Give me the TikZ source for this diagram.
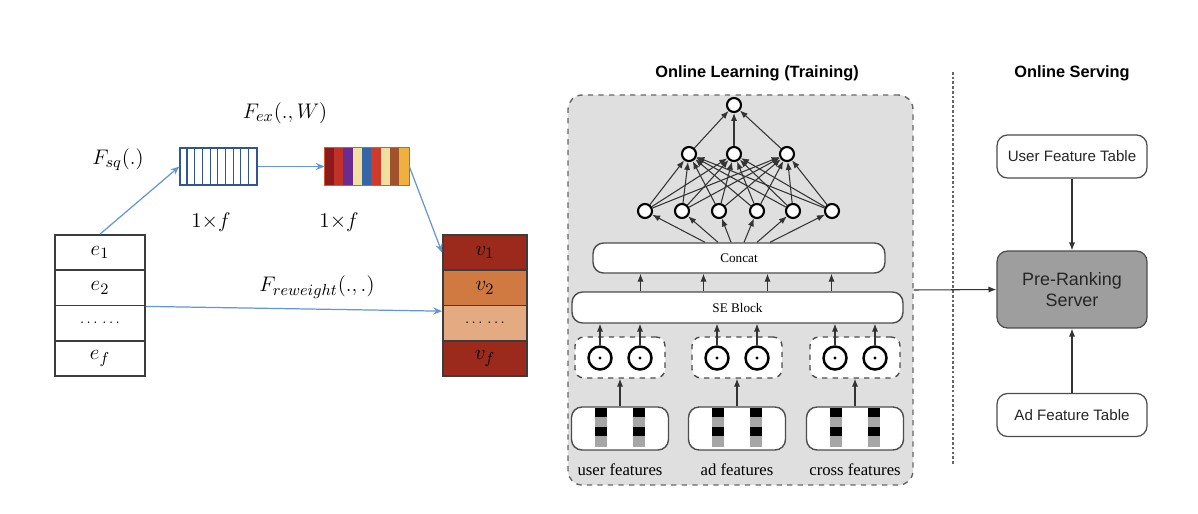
\documentclass[tikz,border=0pt]{standalone}
\usepackage{fontspec}
\setmainfont{Liberation Serif}
\setsansfont{Liberation Sans}
\usepackage{tikz}
\usetikzlibrary{arrows.meta, positioning, calc}
\definecolor{linkblue}{RGB}{100, 150, 215}
\definecolor{cellblue}{RGB}{47, 85, 151}
\definecolor{vdark}{RGB}{155, 42, 28}
\definecolor{vorange}{RGB}{208, 122, 66}
\definecolor{vpeach}{RGB}{228, 170, 130}
\definecolor{panelgray}{RGB}{223, 223, 223}
\definecolor{servergray}{RGB}{158, 158, 158}
\definecolor{inkgray}{RGB}{60, 60, 60}
\definecolor{exborder}{RGB}{215, 90, 40}
\definecolor{exa}{RGB}{140, 26, 26}
\definecolor{exb}{RGB}{192, 50, 40}
\definecolor{exc}{RGB}{106, 44, 145}
\definecolor{exd}{RGB}{243, 224, 160}
\definecolor{exe}{RGB}{52, 101, 164}
\definecolor{exf}{RGB}{208, 58, 42}
\definecolor{exg}{RGB}{240, 224, 160}
\definecolor{exh}{RGB}{160, 82, 45}
\definecolor{exi}{RGB}{240, 176, 64}

\begin{document}
\begin{tikzpicture}[x=0.02cm, y=-0.02cm,
  ecell/.style={draw=inkgray, line width=1pt, minimum width=1.8cm, minimum height=0.705cm, inner sep=0pt, font=\fontsize{13}{15}\selectfont},
  vcell/.style={ecell, minimum width=1.68cm},
  blueline/.style={-{Stealth[length=5pt, width=4pt]}, linkblue, line width=0.7pt},
  netnode/.style={circle, draw=black, line width=1.2pt, fill=white, minimum size=0.28cm, inner sep=0pt},
  netarrow/.style={-{Latex[length=4.5pt, width=3.5pt]}, draw=black!80, line width=0.6pt},
  layerbox/.style={draw=black!70, line width=0.8pt, fill=white, rounded corners=6pt, inner sep=0pt, font=\fontsize{7.5}{9}\selectfont},
  dashgroup/.style={draw=black!70, dashed, line width=0.8pt, fill=white, rounded corners=5pt, minimum width=1.8cm, minimum height=0.82cm},
  odot/.style={circle, draw=black, line width=1.4pt, fill=white, minimum size=0.46cm, inner sep=0pt},
  featbox/.style={draw=black!70, line width=0.8pt, fill=white, rounded corners=6pt, minimum width=1.94cm, minimum height=0.86cm},
  servbox/.style={draw=black!70, line width=0.7pt, fill=white, rounded corners=6pt, minimum width=3cm, minimum height=0.86cm, text=black!85, font=\sffamily\fontsize{8.6}{10}\selectfont},
  title/.style={font=\sffamily\bfseries\fontsize{9.3}{11}\selectfont}
]
  \useasboundingbox (0,0) rectangle (1198,514);

  % Embedding stack
  \foreach \name/\lab [count=\i] in {e1/$e_1$, e2/$e_2$, edots/{\fontsize{8}{9}\selectfont$\ldots\,\ldots$}, ef/$e_f$}
    \node[ecell] (\name) at (100, {235+35.25*\i-17.6}) {\lab};

  % Reweighted stack
  \foreach \name/\lab/\col [count=\i] in {v1/$v_1$/vdark, v2/$v_2$/vorange, vdots/{\fontsize{8}{9}\selectfont$\ldots\,\ldots$}/vpeach, vf/$v_f$/vdark}
    \node[vcell, fill=\col] (\name) at (485, {235+35.25*\i-17.6}) {\lab};

  % Squeeze vector
  \node[draw=cellblue, line width=0.8pt, minimum width=1.54cm, minimum height=0.74cm, inner sep=0pt] (sq) at (218.5, 166.5) {};
  \foreach \k in {1,...,9}
    \draw[cellblue, line width=0.6pt] ($(sq.north west)+(7.7*\k,0)$) -- ($(sq.south west)+(7.7*\k,0)$);

  % Excitation vector
  \node[minimum width=1.68cm, minimum height=0.74cm, inner sep=0pt] (ex) at (367, 166.5) {};
  \foreach \col [count=\k] in {exa, exb, exc, exd, exe, exf, exg, exh, exi}
    \fill[\col] ($(ex.north west)+({9.333*(\k-1)},0)$) rectangle ++(9.333,37);
  \draw[exborder, line width=0.8pt] (ex.north west) rectangle (ex.south east);

  % Labels
  \node[font=\fontsize{12.5}{14}\selectfont] (fsq) at (118, 160) {$F_{sq}(.)$};
  \node[font=\fontsize{12.5}{14}\selectfont] (fex) at (285, 113) {$F_{ex}(.,W)$};
  \node[font=\fontsize{12.5}{14}\selectfont] (frw) at (317, 287) {$F_{reweight}(.,.)$};
  \node[font=\fontsize{12.5}{14}\selectfont] (dsq) at (211, 222) {$1{\times}f$};
  \node[font=\fontsize{12.5}{14}\selectfont] (dex) at (339, 222) {$1{\times}f$};

  % Blue links
  \draw[blueline] (e1.north) -- (sq.west);
  \draw[blueline] (sq.east) -- (ex.west);
  \draw[blueline] (ex.east) -- (v1.west);
  \draw[blueline] (e2.south east) -- ($(vdots.north west)+(0,6.5)$);

  % Online learning panel
  \node[title] (ttrain) at (757, 73) {Online Learning (Training)};
  \node[draw=black!60, dashed, line width=0.8pt, fill=panelgray, rounded corners=8pt, minimum width=6.9cm, minimum height=7.8cm] (train) at (740.5, 290) {};

  % Network
  \node[netnode] (out) at (734, 105) {};
  \foreach \x [count=\j] in {689, 734, 787}
    \node[netnode] (h\j) at (\x, 154) {};
  \foreach \x [count=\i] in {645, 682, 719, 757, 793, 832}
    \node[netnode] (n\i) at (\x, 211) {};
  \foreach \i in {1,...,6}
    \foreach \j in {1,2,3}
      \draw[netarrow] (n\i) -- (h\j);
  \foreach \j in {1,2,3}
    \draw[netarrow] (h\j) -- (out);

  % Concat and SE block
  \node[layerbox, minimum width=5.84cm, minimum height=0.6cm] (concat) at (739, 258) {Concat};
  \node[layerbox, minimum width=6.62cm, minimum height=0.62cm] (se) at (737.5, 307.5) {SE Block};
  \foreach \dx [count=\i] in {-34,-21,-8,5,18,31}
    \draw[netarrow] ($(concat.north)+(\dx,0)$) -- (n\i);
  \foreach \dx [count=\i] in {-97,-34,30,94} {
    \coordinate (sp\i) at ($(se.north)+(\dx,0)$);
    \draw[netarrow] (sp\i) -- (sp\i |- concat.south);
  }

  % Feature groups
  \foreach \g/\cx/\lab in {u/620/user features, a/737/ad features, c/855/cross features} {
    \node[dashgroup] (g\g) at (\cx, 357.5) {};
    \node[odot] (\g1) at ({\cx-20}, 358) {};
    \node[odot] (\g2) at ({\cx+20}, 358) {};
    \fill (\g1) circle (0.9pt);
    \fill (\g2) circle (0.9pt);
    \draw[netarrow] (\g1.north) -- (\g1.north |- se.south);
    \draw[netarrow] (\g2.north) -- (\g2.north |- se.south);
    \node[featbox] (f\g) at (\cx, 428.5) {};
    \foreach \dx in {-19,19} {
      \fill[black] ($(f\g.north)+(\dx-6,1.5)$) rectangle ++(12,9.5);
      \fill[black!35] ($(f\g.north)+(\dx-6,11)$) rectangle ++(12,10);
      \fill[black] ($(f\g.north)+(\dx-6,21)$) rectangle ++(12,9);
      \fill[black!35] ($(f\g.north)+(\dx-6,30)$) rectangle ++(12,11);
    }
    \draw[netarrow] (f\g.north) -- (f\g.north |- g\g.south);
    \node[font=\fontsize{9.5}{11}\selectfont] (l\g) at (\cx, 470) {\lab};
  }

  % Separator
  \coordinate (sept) at (953, 72);
  \coordinate (sepb) at (953, 465);
  \draw[black!60, line width=1pt, dash pattern=on 1.5pt off 1.2pt] (sept) -- (sepb);

  % Online serving
  \node[title] (tserve) at (1072, 73) {Online Serving};
  \node[servbox] (utab) at (1072, 156.5) {User Feature Table};
  \node[servbox, fill=servergray, minimum height=1.54cm, align=center, font=\sffamily\fontsize{10.2}{12}\selectfont] (prs) at (1072, 289.5) {Pre-Ranking\\Server};
  \node[servbox] (atab) at (1072, 415) {Ad Feature Table};
  \draw[netarrow] (utab) -- (prs);
  \draw[netarrow] (atab) -- (prs);
  \draw[netarrow] (train.east) -- (prs.west);
\end{tikzpicture}
\end{document}
